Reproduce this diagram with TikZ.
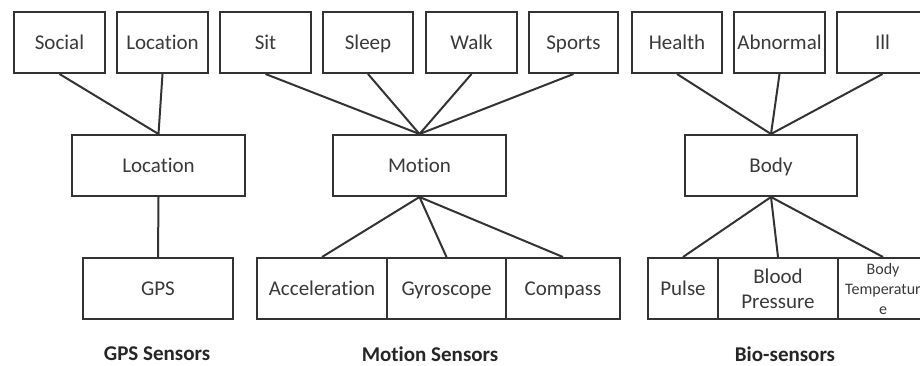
\documentclass[tikz,border=0pt]{standalone}
\usepackage{fontspec}
\setmainfont{Carlito}[Ligatures={NoCommon}]
\definecolor{edge}{HTML}{333333}
\definecolor{txt}{HTML}{3a3a3a}
\begin{document}
\begin{tikzpicture}[x=1pt,y=-1pt,
  box/.style={draw=edge, line width=2pt, rectangle, inner sep=0pt, minimum height=61pt,
    text=txt, align=center, font=\fontsize{21}{25}\selectfont},
  one/.style={box, text height=16.5pt, text depth=3pt},
  link/.style={draw=edge, line width=2pt},
  captext/.style={text=black!85, font=\fontsize{21}{24}\selectfont\bfseries}]
\fill[white] (0,0) rectangle (920,365);
\useasboundingbox (0,0) rectangle (920,365);
% top row
\node[one, minimum width=91pt] (social) at (59.5,42.5) {Social};
\node[one, minimum width=91pt] (loctop) at (162.5,42.5) {Location};
\node[one, minimum width=91pt] (sit) at (265.5,42.5) {Sit};
\node[one, minimum width=90pt] (sleep) at (368,42.5) {Sleep};
\node[one, minimum width=91pt] (walk) at (471.5,42.5) {Walk};
\node[one, minimum width=89pt] (sports) at (573.5,42.5) {Sports};
\node[one, minimum width=90pt] (health) at (677,42.5) {Health};
\node[one, minimum width=91pt] (abnormal) at (779.5,42.5) {Abnormal};
\node[one, minimum width=91pt] (ill) at (882.5,42.5) {Ill};
% middle row
\node[one, minimum width=173pt] (location) at (158.5,165.5) {Location};
\node[one, minimum width=173pt] (motion) at (419.5,165.5) {Motion};
\node[one, minimum width=172pt] (body) at (771,165.5) {Body};
% bottom row
\node[one, minimum width=150pt] (gps) at (158,288.5) {GPS};
\node[one, minimum width=130pt] (acc) at (322,288.5) {Acceleration};
\node[one, minimum width=119pt] (gyro) at (446.5,288.5) {Gyroscope};
\node[one, minimum width=114pt] (compass) at (563,288.5) {Compass};
\node[one, minimum width=70pt] (pulse) at (683,288.5) {Pulse};
\node[box, minimum width=120pt] (bp) at (778,288.5) {Blood\\Pressure};
\node[box, minimum width=90pt, font=\fontsize{16}{20}\selectfont] (bt) at (883,288.5) {Body\\Temperatur\\e};
% captions
\node[captext] (capgps) at (157,354) {GPS Sensors};
\node[captext] (capmotion) at (430,354) {Motion Sensors};
\node[captext] (capbio) at (785,354) {Bio-sensors};
% connectors
\draw[link] (social.south) -- (location.north);
\draw[link] (loctop.south) -- (location.north);
\draw[link] (location.south) -- (gps.north);
\draw[link] (sit.south) -- (motion.north);
\draw[link] (sleep.south) -- (motion.north);
\draw[link] (walk.south) -- (motion.north);
\draw[link] (sports.south) -- (motion.north);
\draw[link] (motion.south) -- (acc.north);
\draw[link] (motion.south) -- (gyro.north);
\draw[link] (motion.south) -- (compass.north);
\draw[link] (health.south) -- (body.north);
\draw[link] (abnormal.south) -- (body.north);
\draw[link] (ill.south) -- (body.north);
\draw[link] (body.south) -- (pulse.north);
\draw[link] (body.south) -- (bp.north);
\draw[link] (body.south) -- (bt.north);
\end{tikzpicture}
\end{document}
